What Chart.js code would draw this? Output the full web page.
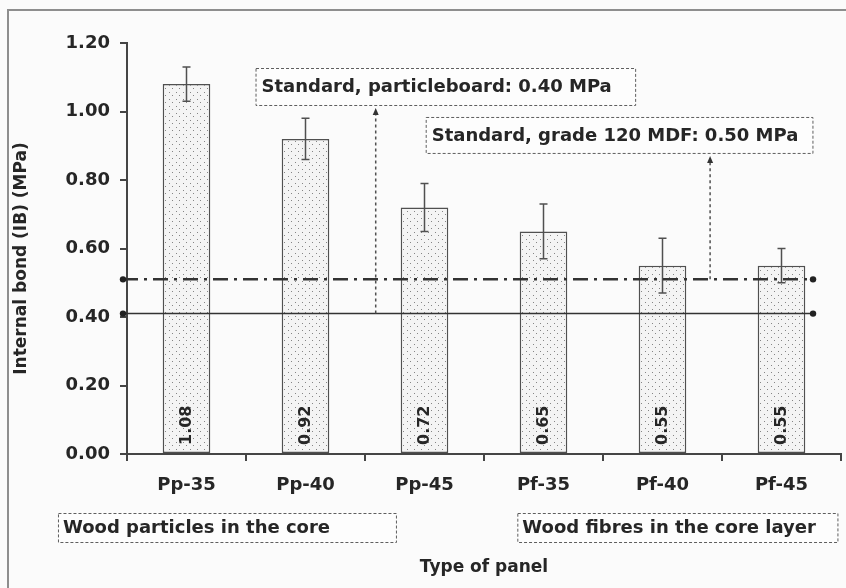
<!DOCTYPE html>
<html>
<head>
<meta charset="utf-8">
<script src="https://cdn.jsdelivr.net/npm/chart.js@4/dist/chart.umd.min.js"></script>
<style>
  html, body { margin: 0; padding: 0; background: #fbfbfb; }
  #wrap { width: 846px; height: 588px; }
</style>
</head>
<body>
<div id="wrap"><canvas id="ibChart" width="846" height="588"></canvas></div>
<script>
// data
const panelTypes = ['Pp-35', 'Pp-40', 'Pp-45', 'Pf-35', 'Pf-40', 'Pf-45'];
const ibMean = [1.08, 0.92, 0.72, 0.65, 0.55, 0.55];
const ibError = [0.05, 0.06, 0.07, 0.08, 0.08, 0.05];
const yMin = 0, yMax = 1.2, yStep = 0.2;

// the two standard lines (drawn a hair above the nominal value in the figure)
const particleStd = 0.41;
const mdfStd = 0.51;
const stdLabels = ['Standard, particleboard: 0.40 MPa', 'Standard, grade 120 MDF: 0.50 MPa'];
const groupLabels = ['Wood particles in the core', 'Wood fibres in the core layer'];
const yTitle = 'Internal bond (IB) (MPa)';

const FONT = 'DejaVu Sans';
const INK = '#262626';
const LINE = '#454545';

// annotation placement (category units from the left edge / y values)
const noteLayout = [
  { text: stdLabels[0], u0: 1.08, u1: 4.27, yTop: 1.127, yBot: 1.019, arrowU: 2.09, arrowFrom: particleStd },
  { text: stdLabels[1], u0: 2.51, u1: 5.76, yTop: 0.984, yBot: 0.879, arrowU: 4.9, arrowFrom: mdfStd }
];
const groupLayout = [
  { text: groupLabels[0], u0: -0.58, u1: 2.26 },
  { text: groupLabels[1], u0: 3.28, u1: 5.97 }
];

function dotPattern() {
  const c = document.createElement('canvas');
  c.width = 7; c.height = 7;
  const g = c.getContext('2d');
  g.fillStyle = '#f4f4f4';
  g.fillRect(0, 0, 7, 7);
  g.fillStyle = '#858585';
  g.fillRect(1, 1, 1, 1);
  g.fillRect(4, 4, 1, 1);
  return g.createPattern(c, 'repeat');
}

function ux(xs, u) { return xs.getPixelForValue(u - 0.5); }

function dashedBox(ctx, x0, y0, x1, y1) {
  ctx.save();
  ctx.fillStyle = '#fdfdfd';
  ctx.fillRect(x0, y0, x1 - x0, y1 - y0);
  ctx.setLineDash([3, 2]);
  ctx.strokeStyle = '#5e5e5e';
  ctx.lineWidth = 1;
  ctx.strokeRect(x0 + 0.5, y0 + 0.5, x1 - x0, y1 - y0);
  ctx.restore();
}

const figurePlugin = {
  id: 'figure',
  beforeDraw(chart) {
    const ctx = chart.ctx;
    ctx.save();
    ctx.fillStyle = '#fbfbfb';
    ctx.fillRect(0, 0, chart.width, chart.height);
    ctx.strokeStyle = '#8e8e8e';
    ctx.lineWidth = 2;
    ctx.beginPath();
    ctx.moveTo(8, chart.height);
    ctx.lineTo(8, 10);
    ctx.lineTo(chart.width, 10);
    ctx.stroke();
    ctx.restore();
  },
  afterDatasetsDraw(chart) {
    const ctx = chart.ctx;
    const xs = chart.scales.x, ys = chart.scales.y;
    const area = chart.chartArea;
    const meta = chart.getDatasetMeta(0);

    // y axis title, sits a little below the axis middle in the figure
    ctx.save();
    ctx.fillStyle = INK;
    ctx.font = 'bold 17px "' + FONT + '"';
    ctx.textAlign = 'center';
    ctx.textBaseline = 'middle';
    ctx.translate(22, (area.top + area.bottom) / 2 + 10);
    ctx.rotate(-Math.PI / 2);
    ctx.fillText(yTitle, 0, 0);
    ctx.restore();

    // error bars
    ctx.save();
    ctx.strokeStyle = '#505050';
    ctx.lineWidth = 1.5;
    meta.data.forEach((bar, i) => {
      const top = ys.getPixelForValue(ibMean[i] + ibError[i]);
      const bot = ys.getPixelForValue(ibMean[i] - ibError[i]);
      ctx.beginPath();
      ctx.moveTo(bar.x, top); ctx.lineTo(bar.x, bot);
      ctx.moveTo(bar.x - 4, top); ctx.lineTo(bar.x + 4, top);
      ctx.moveTo(bar.x - 4, bot); ctx.lineTo(bar.x + 4, bot);
      ctx.stroke();
    });
    ctx.restore();

    // value labels, rotated, inside the bars
    ctx.save();
    ctx.fillStyle = INK;
    ctx.font = 'bold 16px "' + FONT + '"';
    ctx.textAlign = 'left';
    ctx.textBaseline = 'middle';
    meta.data.forEach((bar, i) => {
      ctx.save();
      ctx.translate(bar.x, area.bottom - 9);
      ctx.rotate(-Math.PI / 2);
      ctx.fillText(ibMean[i].toFixed(2), 0, 0);
      ctx.restore();
    });
    ctx.restore();

    // standard lines
    const xStart = area.left - 4;
    const xEnd = ux(xs, 5.765);
    const yP = ys.getPixelForValue(particleStd);
    const yM = ys.getPixelForValue(mdfStd);
    ctx.save();
    ctx.strokeStyle = '#333';
    ctx.lineWidth = 1.5;
    ctx.beginPath(); ctx.moveTo(xStart, yP); ctx.lineTo(xEnd, yP); ctx.stroke();
    ctx.lineWidth = 2.5;
    ctx.setLineDash([15, 6, 3, 6]);
    ctx.beginPath(); ctx.moveTo(xStart, yM); ctx.lineTo(xEnd, yM); ctx.stroke();
    ctx.setLineDash([]);
    ctx.fillStyle = '#222';
    [[xStart, yP], [xEnd, yP], [xStart, yM], [xEnd, yM]].forEach(p => {
      ctx.beginPath(); ctx.arc(p[0], p[1], 3.2, 0, Math.PI * 2); ctx.fill();
    });
    ctx.restore();

    // note boxes with dotted arrows
    noteLayout.forEach(n => {
      const x0 = ux(xs, n.u0), x1 = ux(xs, n.u1);
      const y0 = ys.getPixelForValue(n.yTop), y1 = ys.getPixelForValue(n.yBot);
      const ax = ux(xs, n.arrowU);
      const ay = ys.getPixelForValue(n.arrowFrom);
      ctx.save();
      ctx.strokeStyle = '#505050';
      ctx.lineWidth = 1.5;
      ctx.setLineDash([3, 3]);
      ctx.beginPath(); ctx.moveTo(ax, ay); ctx.lineTo(ax, y1 + 10); ctx.stroke();
      ctx.setLineDash([]);
      ctx.fillStyle = '#333';
      ctx.beginPath();
      ctx.moveTo(ax, y1 + 3); ctx.lineTo(ax - 3, y1 + 10); ctx.lineTo(ax + 3, y1 + 10);
      ctx.closePath(); ctx.fill();
      ctx.restore();

      dashedBox(ctx, x0, y0, x1, y1);
      ctx.save();
      ctx.fillStyle = INK;
      ctx.font = 'bold 18px "' + FONT + '"';
      ctx.textAlign = 'left';
      ctx.textBaseline = 'middle';
      ctx.fillText(n.text, x0 + 6, (y0 + y1) / 2 + 1);
      ctx.restore();
    });

    // group boxes under the axis
    groupLayout.forEach(g => {
      const x0 = ux(xs, g.u0), x1 = ux(xs, g.u1);
      const y0 = area.bottom + 59, y1 = area.bottom + 88;
      dashedBox(ctx, x0, y0, x1, y1);
      ctx.save();
      ctx.fillStyle = INK;
      ctx.font = 'bold 18px "' + FONT + '"';
      ctx.textAlign = 'left';
      ctx.textBaseline = 'middle';
      ctx.fillText(g.text, x0 + 5, (y0 + y1) / 2 + 1);
      ctx.restore();
    });
  }
};

Chart.defaults.font.family = FONT;
Chart.defaults.color = INK;

new Chart(document.getElementById('ibChart'), {
  type: 'bar',
  data: {
    labels: panelTypes,
    datasets: [{
      data: ibMean,
      backgroundColor: dotPattern(),
      borderColor: '#505050',
      borderWidth: 1.5,
      borderSkipped: false,
      categoryPercentage: 1,
      barPercentage: 0.4
    }]
  },
  options: {
    responsive: false,
    devicePixelRatio: 1,
    animation: false,
    layout: { padding: { left: 0, top: 43, right: 5, bottom: 0 } },
    plugins: { legend: { display: false }, tooltip: { enabled: false } },
    scales: {
      x: {
        grid: { offset: true, drawOnChartArea: false, tickLength: 7, color: LINE, lineWidth: 2 },
        border: { color: LINE, width: 2 },
        ticks: { font: { size: 18, weight: 'bold' }, color: INK, padding: 14 },
        title: { display: true, text: 'Type of panel', font: { size: 17, weight: 'bold' }, color: INK, padding: { top: 10, bottom: 10 } },
        afterFit(s) { s.height = 134; }
      },
      y: {
        min: yMin,
        max: yMax,
        grid: { drawOnChartArea: false, tickLength: 7, color: LINE, lineWidth: 2 },
        border: { color: LINE, width: 2 },
        ticks: {
          stepSize: yStep,
          font: { size: 18, weight: 'bold' },
          color: INK,
          padding: 10,
          callback: v => v.toFixed(2)
        },
        afterFit(s) { s.width = 127; }
      }
    }
  },
  plugins: [figurePlugin]
});
</script>
</body>
</html>
